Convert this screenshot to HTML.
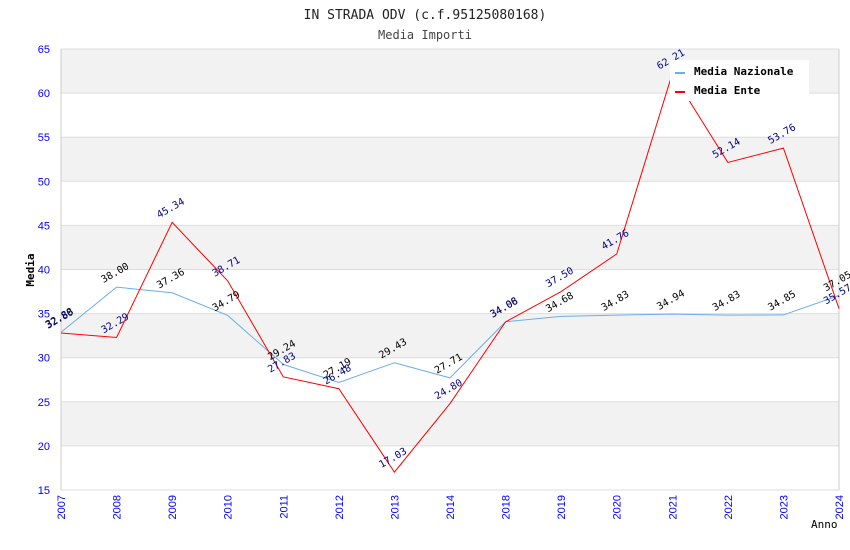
<!DOCTYPE html>
<html><head><meta charset="utf-8"><style>
body{margin:0;background:#fff;}
svg{display:block;font-family:"DejaVu Sans Mono","Liberation Mono",monospace;}
</style></head><body>
<svg id="chart" width="850" height="550">
<text x="425" y="19" text-anchor="middle" font-size="13" fill="#222">IN STRADA ODV (c.f.95125080168)</text>
<text x="425" y="39" text-anchor="middle" font-size="12" fill="#444">Media Importi</text>
<g id="grid"></g>
<g id="axes"></g>
<g id="series"></g>
<g id="labels"></g>
<text x="34" y="270" font-size="11" font-weight="bold" fill="#000" transform="rotate(-90 34 270)" text-anchor="middle">Media</text>
<text x="811" y="528" font-size="11" fill="#000">Anno</text>
<g>
<rect x="670" y="60" width="139" height="41" fill="#fff"/>
<g><rect x="675" y="72" width="10" height="2" fill="#6aaeea"/><text x="694" y="75" font-size="11" font-weight="bold">Media Nazionale</text></g>
<g><rect x="675" y="91" width="10" height="2" fill="#f00"/><text x="694" y="94" font-size="11" font-weight="bold">Media Ente</text></g>
</g>
</svg>
<script>
const categories=["2007","2008","2009","2010","2011","2012","2013","2014","2018","2019","2020","2021","2022","2023","2024"];
const nazionale=[32.88,38.00,37.36,34.79,29.24,27.19,29.43,27.71,34.08,34.68,34.83,34.94,34.83,34.85,37.05];
const ente=[32.80,32.29,45.34,38.71,27.83,26.48,17.03,24.80,34.06,37.50,41.76,62.21,52.14,53.76,35.57];
const yTicks=[15,20,25,30,35,40,45,50,55,60,65];
const NS="http://www.w3.org/2000/svg";
const L=61,R=839,T=49,B=490,ymin=15,ymax=65;
const xs=i=>L+i*(R-L)/(categories.length-1);
const ys=v=>B-(v-ymin)/(ymax-ymin)*(B-T);
function mk(tag,attrs,parent,txt){const e=document.createElementNS(NS,tag);for(const k in attrs)e.setAttribute(k,attrs[k]);if(txt!==undefined)e.textContent=txt;document.getElementById(parent).appendChild(e);return e;}
for(let i=0;i<yTicks.length-1;i++){
  const a=yTicks[i],b=yTicks[i+1];
  const r=mk("rect",{x:L,y:ys(b),width:R-L,height:ys(a)-ys(b),fill:(i%2==1)?"#f2f2f2":"#fff"},"grid");
  
  
}
yTicks.forEach(v=>{
  const l=mk("line",{x1:L,x2:R,y1:ys(v),y2:ys(v),stroke:"#ddd"},"grid");
  
  
  const t=mk("text",{x:L-11,y:ys(v)+4,"text-anchor":"end","font-size":"11",fill:"#00f","font-family":"Liberation Sans, sans-serif"},"axes",v);
  
  
});
mk("line",{x1:L,x2:L,y1:T,y2:B,stroke:"#ccc"},"axes");
mk("line",{x1:R,x2:R,y1:T,y2:B,stroke:"#ccc"},"axes");
categories.forEach((c,i)=>{
  const x=xs(i);
  const t=mk("text",{x:x+4,y:B+5,"text-anchor":"end","font-size":"11",fill:"#00f","font-family":"Liberation Sans, sans-serif",transform:`rotate(-90 ${x+4} ${B+5})`},"axes",c);
  
  
});
function series(vals,color,name,lblColor){
  const p=mk("polyline",{points:vals.map((v,i)=>xs(i)+","+ys(v)).join(" "),fill:"none",stroke:color,"stroke-width":1},"series");
  
  
  vals.forEach((v,i)=>{
    const x=xs(i)-13,y=ys(v)-4;
    const t=mk("text",{x:x,y:y,"font-size":"10",fill:lblColor,transform:`rotate(-30 ${x} ${y})`},"labels",v.toFixed(2));
    
    
  });
}
series(nazionale,"#6aaeea","series-media-nazionale","#000");
series(ente,"#f00","series-media-ente","#00008b");
</script>
</body></html>
